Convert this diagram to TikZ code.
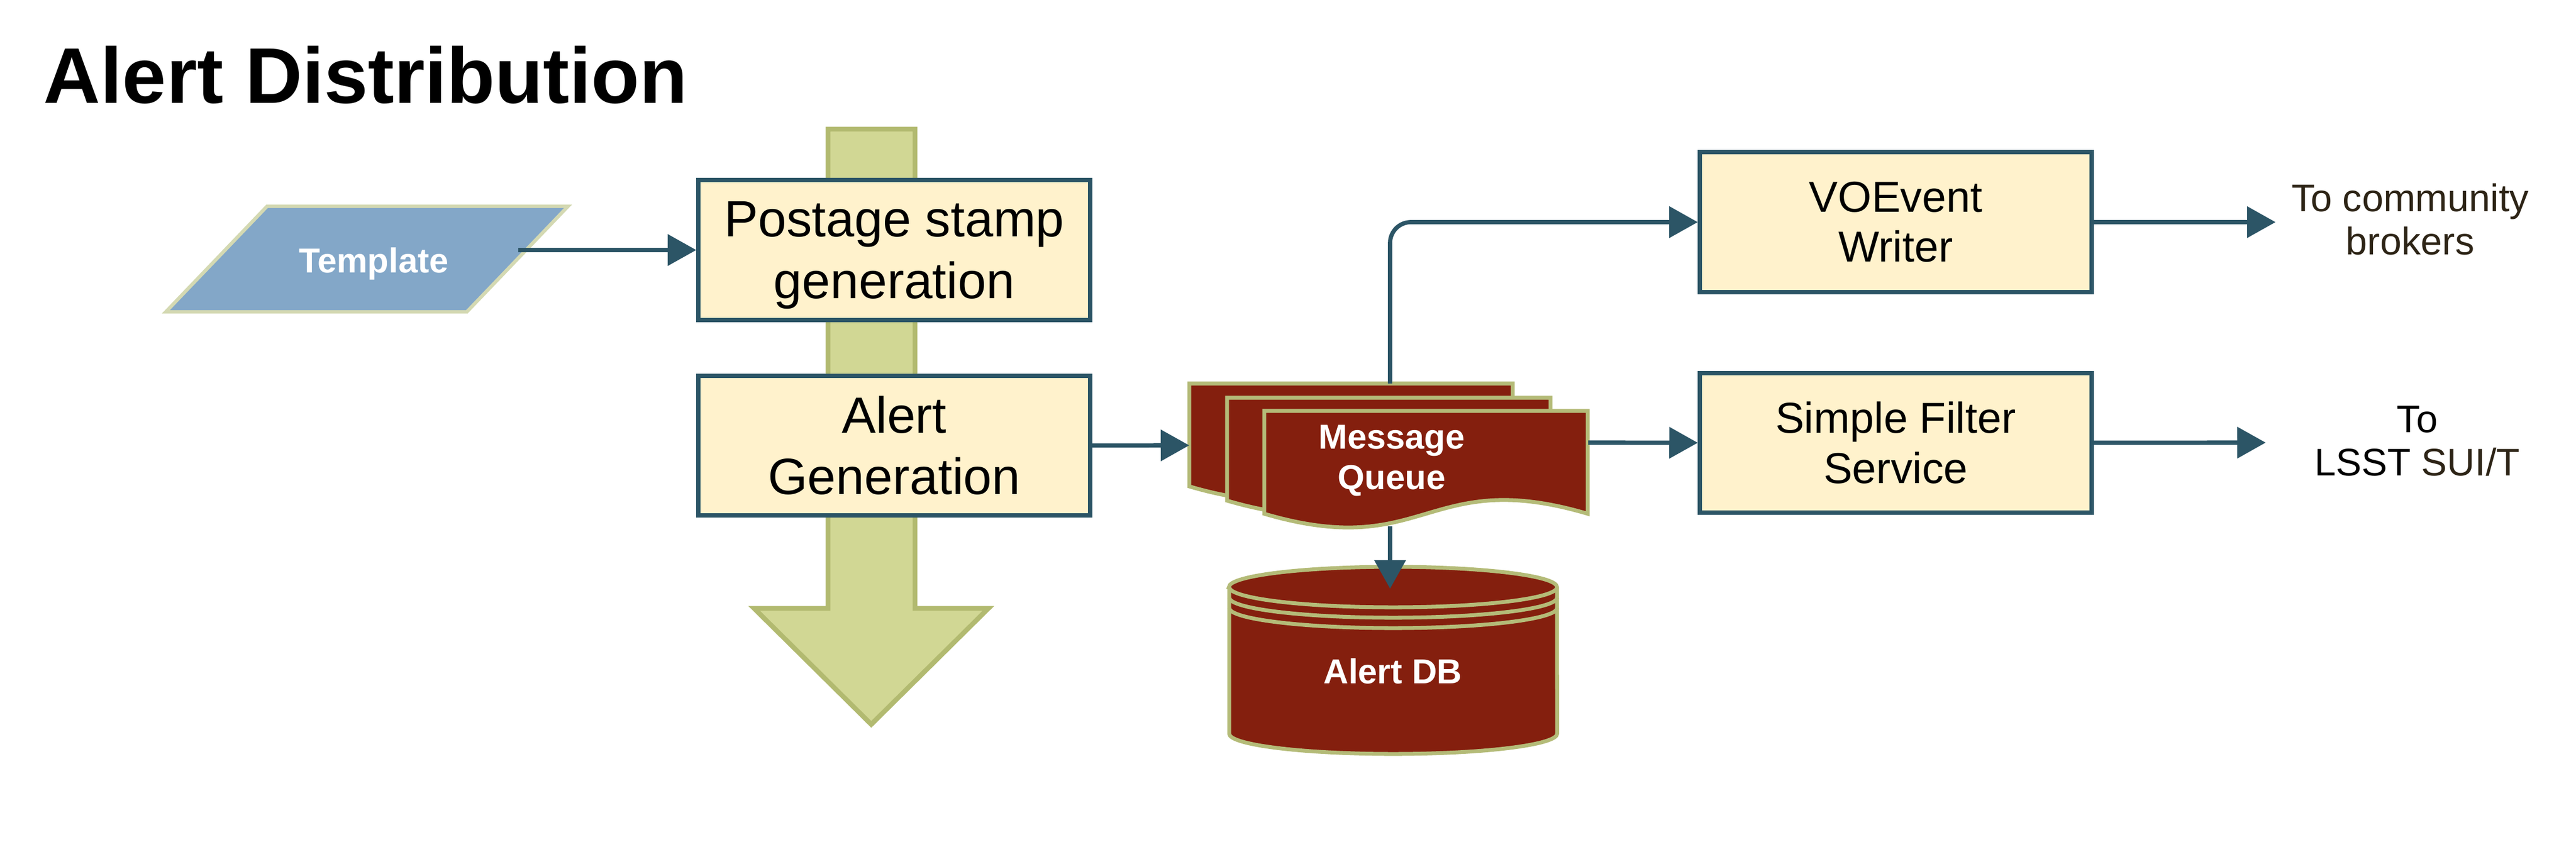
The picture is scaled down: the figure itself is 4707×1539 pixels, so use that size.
\documentclass[tikz,border=0pt]{standalone}
\usepackage{fontspec}
\setmainfont{Liberation Sans}
\usepackage{tikz}
\usetikzlibrary{arrows.meta, positioning, calc}
\usepackage{xcolor}
\definecolor{boxedge}{RGB}{44, 85, 102}
\definecolor{boxfill}{RGB}{255, 242, 204}
\definecolor{queuered}{RGB}{132, 31, 14}
\definecolor{oliveedge}{RGB}{180, 187, 120}
\definecolor{flowgreen}{RGB}{209, 215, 148}
\definecolor{flowedge}{RGB}{178, 186, 112}
\definecolor{tmplblue}{RGB}{131, 167, 200}
\definecolor{tmpledge}{RGB}{212, 217, 178}
\definecolor{labelbrown}{RGB}{45, 36, 22}

\begin{document}
\begin{tikzpicture}[
    x=0.01cm, y=-0.01cm,
    every node/.style={inner sep=0pt},
    procbox/.style={rectangle, draw=boxedge, fill=boxfill, line width=2.3pt,
      minimum width=7.15cm, minimum height=2.55cm, align=center},
    flow/.style={draw=boxedge, line width=2.2pt,
      -{Triangle[length=0.52cm, width=0.56cm]}},
    docpage/.style={fill=queuered, draw=oliveedge, line width=2pt},
    whitelabel/.style={text=white, align=center,
      font=\bfseries\fontsize{18}{21}\selectfont}
  ]
  \useasboundingbox (0,0) rectangle (4707,1539);

  % Title
  \node[anchor=base west, font=\bfseries\fontsize{41}{49}\selectfont]
    (title) at (79,188) {Alert Distribution};

  % Processing flow arrow
  \filldraw[fill=flowgreen, draw=flowedge, line width=2.5pt]
    (1513,236) -- (1672,236) -- (1672,1112) -- (1806,1112)
    -- (1592,1324) -- (1378,1112) -- (1513,1112) -- cycle;

  % Template input
  \filldraw[fill=tmplblue, draw=tmpledge, line width=1.8pt]
    (303,570) -- (488,377) -- (1038,377) -- (853,570) -- cycle;
  \node[text=white, font=\bfseries\fontsize{18}{21}\selectfont]
    (template) at (683,482) {Template};
  \coordinate (tmplout) at (947,457);

  % Processing steps
  \node[procbox, font=\fontsize{26.5}{32}\selectfont, text depth=0pt]
    (stamp) at (1634,457) {Postage stamp\\generation};
  \node[procbox, font=\fontsize{26.5}{32}\selectfont, below=0.94cm of stamp]
    (alertgen) {Alert\\Generation};

  % Message queue pages
  \foreach \dx/\dy in {0/0, 69/26, 137/50}
    \filldraw[docpage, shift={(2173+\dx,701+\dy)}]
      (0,0) -- (591,0) -- (591,188)
      .. controls (296,101) and (296,275) .. (0,188) -- cycle;
  \node[whitelabel] (queue) at (2543,842) {Message\\Queue};
  \coordinate (qin) at (2173,814);
  \coordinate (qtop) at (2540,701);
  \coordinate (qout) at (2902,809);
  \coordinate (qbot) at (2540,962);

  % Alert DB
  \filldraw[docpage] (2246,1073) -- (2246,1341)
    arc[start angle=180, end angle=360, x radius=2.995cm, y radius=0.37cm]
    -- (2845,1073)
    arc[start angle=0, end angle=180, x radius=2.995cm, y radius=0.37cm]
    -- cycle;
  \foreach \off in {0,19,38}
    \draw[oliveedge, line width=2pt] (2246,1073+\off)
      arc[start angle=180, end angle=360, x radius=2.995cm, y radius=0.37cm];
  \node[whitelabel] (alertdb) at (2545,1227) {Alert DB};
  \coordinate (dbtop) at (2540,1076);

  % Outgoing services
  \node[procbox, font=\fontsize{22.5}{26}\selectfont]
    (voevent) at (3464,406) {VOEvent\\Writer};
  \node[procbox, font=\fontsize{22.5}{26}\selectfont, below=1.40cm of voevent]
    (filter) {Simple Filter\\Service};

  % Destinations
  \node[font=\fontsize{20}{22.5}\selectfont, text=labelbrown, align=center]
    (brokers) at (4404,401) {To community\\brokers};
  \node[font=\fontsize{20}{22.5}\selectfont, align=center]
    (lsst) at (4417,806) {To\\LSST \textcolor{labelbrown}{SUI/T}};
  \coordinate (tobrokers) at (4158,406);
  \coordinate (tolsst) at (4140,809);

  % Connectors
  \draw[flow] (tmplout) -- (stamp.west);
  \draw[flow] (alertgen.east) -- (qin);
  \draw[flow, rounded corners=0.38cm] (qtop) |- (voevent.west);
  \draw[flow] (qout) -- (filter.west);
  \draw[flow] (qbot) -- (dbtop);
  \draw[flow] (voevent.east) -- (tobrokers);
  \draw[flow] (filter.east) -- (tolsst);
\end{tikzpicture}
\end{document}
